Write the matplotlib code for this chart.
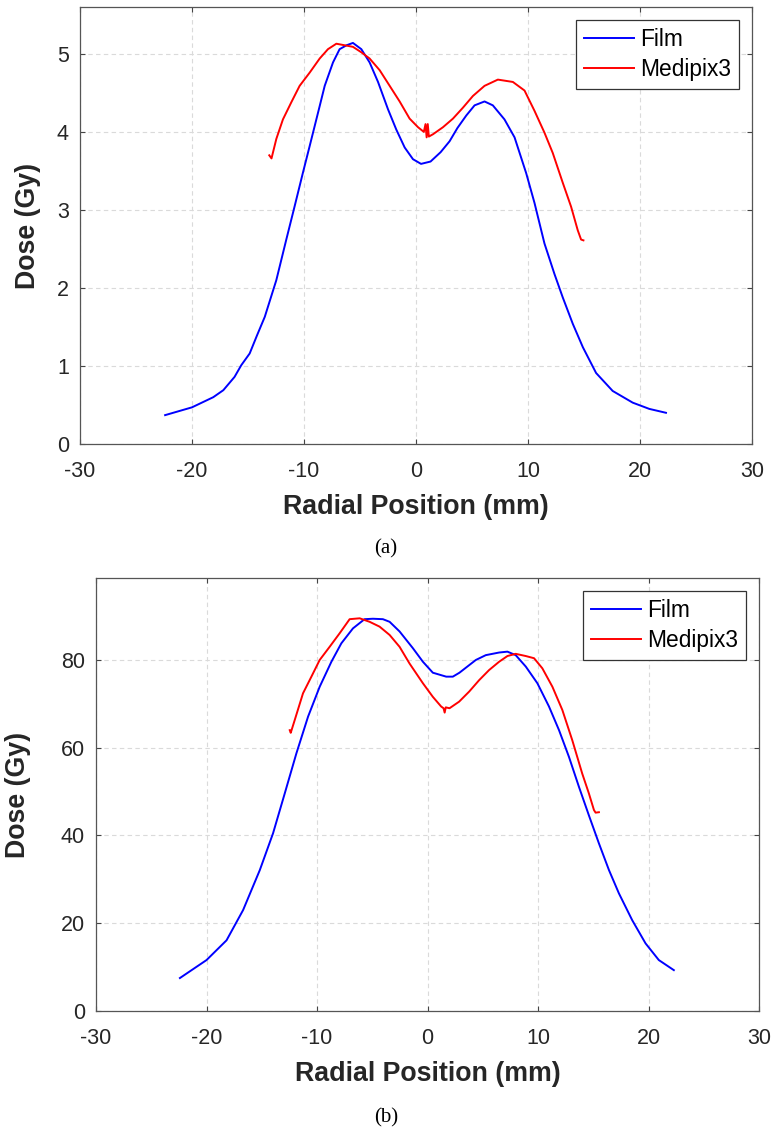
import matplotlib.pyplot as plt

# (a) top panel
film_a_x = [-22.4, -20.0, -18.1, -17.2, -16.2, -15.6, -14.85, -14.2, -13.5, -12.47, -11.58, -10.83, -10.09,
            -9.49, -8.6, -8.15, -7.41, -6.82, -6.2, -5.63, -4.88, -4.14, -3.39, -2.5, -1.76, -1.01, -0.27,
            0.45, 1.3, 2.2, 3.0, 3.7, 4.49, 5.23, 6.12, 6.86, 7.9, 8.8, 9.84, 10.58, 11.47, 12.36, 13.1,
            14.0, 14.9, 16.08, 17.56, 19.35, 20.83, 22.32]
film_a_y = [0.37, 0.47, 0.60, 0.69, 0.86, 1.01, 1.16, 1.39, 1.63, 2.10, 2.62, 3.05, 3.48,
            3.82, 4.33, 4.59, 4.89, 5.06, 5.11, 5.14, 5.06, 4.89, 4.64, 4.29, 4.03, 3.80, 3.65,
            3.59, 3.62, 3.74, 3.88, 4.05, 4.21, 4.34, 4.39, 4.34, 4.16, 3.93, 3.47, 3.09, 2.57, 2.18, 1.88,
            1.54, 1.24, 0.91, 0.68, 0.53, 0.45, 0.40]
medi_a_x = [-13.1, -12.9, -12.47, -11.88, -11.13, -10.39, -9.49, -8.6, -7.86, -7.11, -6.37, -5.63, -4.88,
            -4.14, -3.24, -2.35, -1.46, -0.57, 0.18, 0.7, 0.85, 0.95, 1.05, 1.15, 1.52, 2.41, 3.3, 4.19,
            5.08, 6.12, 7.31, 8.65, 9.69, 10.58, 11.47, 12.21, 13.1, 13.85, 14.44, 14.74, 14.95]
medi_a_y = [3.70, 3.66, 3.91, 4.16, 4.38, 4.59, 4.76, 4.94, 5.06, 5.13, 5.11, 5.09, 5.02,
            4.94, 4.79, 4.59, 4.39, 4.17, 4.06, 4.00, 4.10, 3.93, 4.10, 3.94, 3.97, 4.06, 4.17, 4.31,
            4.46, 4.59, 4.67, 4.64, 4.53, 4.27, 3.99, 3.73, 3.35, 3.04, 2.74, 2.62, 2.61]

# (b) bottom panel
film_b_x = [-22.41, -20.0, -18.19, -16.69, -15.18, -13.98, -12.92, -11.87, -10.81, -9.76, -8.7, -7.8, -6.75,
            -6.0, -5.7, -4.94, -4.04, -3.43, -2.53, -1.33, -0.42, 0.48, 1.69, 2.29, 2.89, 4.37, 5.27, 6.48,
            7.23, 7.98, 8.89, 9.94, 10.99, 11.9, 12.8, 13.7, 14.6, 15.51, 16.42, 17.32, 18.52, 19.73,
            20.93, 22.29]
film_b_y = [7.5, 11.6, 16.1, 23.0, 32.1, 40.5, 49.6, 58.7, 67.1, 73.9, 79.6, 83.8, 87.2,
            88.7, 89.3, 89.4, 89.3, 88.7, 86.5, 82.7, 79.6, 77.1, 76.2, 76.2, 77.1, 80.0, 81.1, 81.7,
            81.9, 81.1, 78.5, 74.7, 69.4, 64.0, 57.9, 51.1, 44.6, 38.2, 32.1, 26.8, 20.7, 15.4,
            11.6, 9.3]
medi_b_x = [-12.47, -12.38, -12.02, -11.27, -10.51, -9.76, -8.86, -7.95, -7.05, -6.14, -5.24, -4.34, -3.43,
            -2.53, -1.63, -0.42, 0.48, 1.23, 1.45, 1.55, 1.65, 1.99, 2.86, 3.77, 4.67, 5.57, 6.48, 7.23,
            7.98, 8.89, 9.64, 10.39, 11.3, 12.2, 13.1, 14.0, 14.6, 15.06, 15.21, 15.51]
medi_b_y = [64.0, 63.4, 66.3, 72.4, 76.2, 80.0, 83.0, 86.1, 89.3, 89.5, 88.7, 87.6, 85.7,
            83.0, 79.2, 74.7, 71.6, 69.4, 69.0, 68.0, 69.2, 69.0, 70.5, 72.8, 75.4, 77.7, 79.6, 80.9,
            81.4, 80.9, 80.4, 78.1, 73.9, 68.6, 61.7, 54.1, 49.6, 45.8, 45.2, 45.3]

x_ticks = [-30, -20, -10, 0, 10, 20, 30]

plt.rcParams['font.family'] = ['Liberation Sans', 'DejaVu Sans']
plt.rcParams['axes.unicode_minus'] = False

fig = plt.figure(figsize=(7.72, 11.35), dpi=100)
ax_a = fig.add_axes([0.1036, 0.6088, 0.8705, 0.385])
ax_b = fig.add_axes([0.1244, 0.1093, 0.8588, 0.3815])


def style_axes(ax, ylim, yticks, ylabel_x):
    ax.set_xlim(-30, 30)
    ax.set_ylim(*ylim)
    ax.set_xticks(x_ticks)
    ax.set_yticks(yticks)
    ax.grid(True, color='#dadada', linestyle=(0, (4, 3)), linewidth=0.8)
    ax.set_axisbelow(True)
    for s in ax.spines.values():
        s.set_color('#555555')
        s.set_linewidth(0.9)
    ax.tick_params(direction='in', length=3.5, width=0.8, color='#444444',
                   top=True, right=True, labelsize=15.5, labelcolor='#262626')
    ax.tick_params(axis='x', pad=12)
    ax.tick_params(axis='y', pad=8)
    ax.set_xlabel('Radial Position (mm)', fontsize=19.3, fontweight='bold', color='#262626', labelpad=9)
    ax.set_ylabel('Dose (Gy)', fontsize=19.3, fontweight='bold', color='#262626')
    ax.yaxis.set_label_coords(ylabel_x, 0.5)
    leg = ax.legend(loc='upper right', fontsize=16.4, fancybox=False, framealpha=1,
                    edgecolor='#333333', handlelength=2.2, handletextpad=0.25,
                    borderpad=0.35, labelspacing=0.3, borderaxespad=0.58)
    leg.get_frame().set_linewidth(0.9)


ax_a.plot(film_a_x, film_a_y, color='#0000ff', lw=1.4, label='Film')
ax_a.plot(medi_a_x, medi_a_y, color='#ff0000', lw=1.4, label='Medipix3')
style_axes(ax_a, (0, 5.6), [0, 1, 2, 3, 4, 5], -0.058)

ax_b.plot(film_b_x, film_b_y, color='#0000ff', lw=1.4, label='Film')
ax_b.plot(medi_b_x, medi_b_y, color='#ff0000', lw=1.4, label='Medipix3')
style_axes(ax_b, (0, 98.7), [0, 20, 40, 60, 80], -0.098)

fig.text(0.5, 0.5163, '(a)', ha='center', va='center', fontsize=15, family='Liberation Serif')
fig.text(0.5, 0.015, '(b)', ha='center', va='center', fontsize=15, family='Liberation Serif')

fig.savefig('out.png', dpi=100)
